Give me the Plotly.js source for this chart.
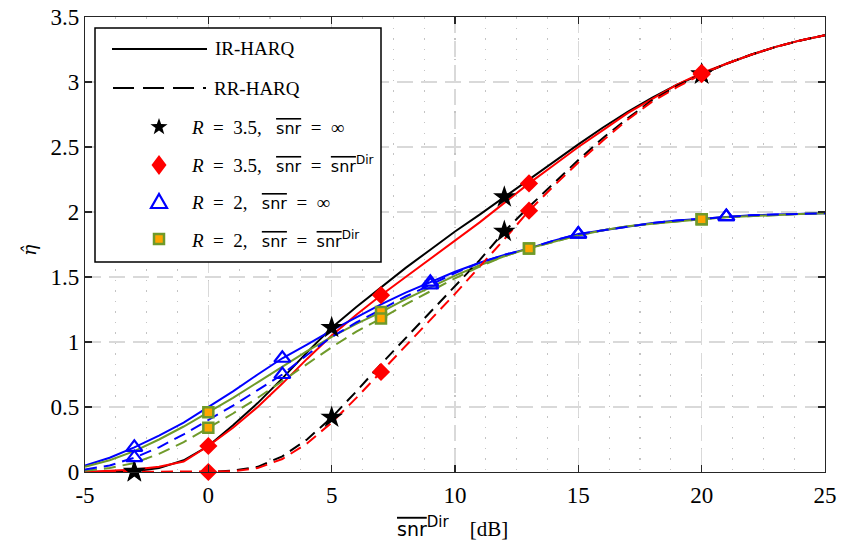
<!DOCTYPE html>
<html>
<head>
<meta charset="utf-8">
<script src="https://cdn.plot.ly/plotly-3.0.1.min.js"></script>
<style>
  html, body { margin: 0; padding: 0; background: #ffffff; }
  #chart { width: 841px; height: 546px; }
</style>
</head>
<body>
<div id="chart"></div>
<script>
// Average SNR of the direct link, dB
const snrDb = [-5, -4, -3, -2, -1, 0, 1, 2, 3, 4, 5, 6, 7, 8, 9, 10,
               11, 12, 13, 14, 15, 16, 17, 18, 19, 20, 21, 22, 23, 24, 25];

// Throughput, R = 3.5
const irR35Inf = [0.00, 0.00, 0.005, 0.03, 0.09, 0.20, 0.36, 0.53, 0.72, 0.92, 1.11, 1.27, 1.42, 1.57, 1.71, 1.85,
                  1.98, 2.115, 2.25, 2.39, 2.52, 2.65, 2.77, 2.88, 2.98, 3.06, 3.14, 3.21, 3.27, 3.32, 3.36];
const irR35Dir = [0.00, 0.01, 0.02, 0.04, 0.08, 0.20, 0.34, 0.50, 0.68, 0.87, 1.05, 1.21, 1.36, 1.50, 1.64, 1.78,
                  1.92, 2.07, 2.22, 2.36, 2.50, 2.63, 2.76, 2.87, 2.98, 3.07, 3.14, 3.21, 3.27, 3.32, 3.36];
const rrR35Inf  = [0.00, 0.00, 0.00, 0.00, 0.00, 0.00, 0.01, 0.04, 0.12, 0.25, 0.42, 0.62, 0.83, 1.03, 1.23, 1.43,
                  1.63, 1.85, 2.04, 2.22, 2.40, 2.57, 2.72, 2.86, 2.97, 3.06, 3.14, 3.21, 3.27, 3.32, 3.36];
const rrR35Dir  = [0.00, 0.00, 0.00, 0.00, 0.00, 0.00, 0.005, 0.03, 0.10, 0.22, 0.38, 0.57, 0.77, 0.97, 1.17, 1.37,
                  1.58, 1.79, 2.01, 2.20, 2.38, 2.55, 2.71, 2.85, 2.96, 3.06, 3.14, 3.21, 3.27, 3.32, 3.36];

// Throughput, R = 2
const irR2Inf = [0.05, 0.11, 0.19, 0.28, 0.38, 0.50, 0.62, 0.75, 0.875, 0.98, 1.09, 1.19, 1.29, 1.38, 1.46, 1.54,
                 1.61, 1.67, 1.72, 1.78, 1.83, 1.86, 1.89, 1.915, 1.935, 1.95, 1.965, 1.975, 1.98, 1.985, 1.99];
const irR2Dir = [0.04, 0.09, 0.16, 0.25, 0.35, 0.46, 0.57, 0.69, 0.81, 0.93, 1.04, 1.14, 1.23, 1.33, 1.42, 1.51,
                 1.59, 1.66, 1.72, 1.77, 1.82, 1.86, 1.89, 1.91, 1.93, 1.945, 1.96, 1.97, 1.98, 1.985, 1.99];
const rrR2Inf = [0.02, 0.05, 0.11, 0.19, 0.29, 0.40, 0.51, 0.63, 0.75, 0.90, 1.04, 1.15, 1.25, 1.35, 1.44, 1.53,
                 1.61, 1.67, 1.72, 1.78, 1.83, 1.86, 1.89, 1.915, 1.935, 1.95, 1.965, 1.975, 1.98, 1.985, 1.99];
const rrR2Dir = [0.01, 0.03, 0.07, 0.14, 0.23, 0.34, 0.45, 0.57, 0.70, 0.83, 0.96, 1.08, 1.18, 1.29, 1.39, 1.49,
                 1.58, 1.66, 1.72, 1.77, 1.82, 1.86, 1.89, 1.91, 1.93, 1.945, 1.96, 1.97, 1.98, 1.985, 1.99];

// SNR values carrying a marker on each curve family
const markStar = [-3, 5, 12, 20];
const markDiamond = [0, 7, 13, 20];
const markTriangle = [-3, 3, 9, 15, 21];
const markSquare = [0, 7, 13, 20];

// Axis ticks
const xTicks = [-5, 0, 5, 10, 15, 20, 25];
const xTickText = ['-5', '0', '5', '10', '15', '20', '25'];
const yTicks = [0, 0.5, 1, 1.5, 2, 2.5, 3, 3.5];
const yTickText = ['0', '0.5', '1', '1.5', '2', '2.5', '3', '3.5'];

// Legend labels
const SNR = '<span style="font-family:\'DejaVu Sans\';font-size:16px;text-decoration:overline">snr</span>';
const DIR = '<sup><span style="font-family:\'DejaVu Sans\';font-size:12px">Dir</span></sup>';
const EQ = '\u2002=\u2002';
const lblIR = 'IR-HARQ';
const lblRR = 'RR-HARQ';
const lblStar = '<i>R</i>' + EQ + '3.5,\u2002 ' + SNR + EQ + '∞';
const lblDiamond = '<i>R</i>' + EQ + '3.5,\u2002 ' + SNR + EQ + SNR + DIR;
const lblTriangle = '<i>R</i>' + EQ + '2,\u2002 ' + SNR + EQ + '∞';
const lblSquare = '<i>R</i>' + EQ + '2,\u2002 ' + SNR + EQ + SNR + DIR;

const C_BLACK = '#000000', C_RED = '#ff0000', C_BLUE = '#0000ff';
const C_GREEN = '#6f9a2a', C_ORANGE = '#ffa500';
const DASH = '12px,7px';

function pick(curve, xs) {
  return xs.map(x => curve[snrDb.indexOf(x)]);
}
function line(y, color, dash) {
  return { x: snrDb, y: y, mode: 'lines', showlegend: false, hoverinfo: 'skip',
           line: { color: color, width: 2, dash: dash || 'solid' } };
}
function marks(curve, xs, marker) {
  return { x: xs, y: pick(curve, xs), mode: 'markers', showlegend: false,
           cliponaxis: false, marker: marker };
}

const mStar = { symbol: 'star', size: 17, color: C_BLACK, line: { width: 0 } };
const mDiamond = { symbol: 'diamond', size: 14, color: C_RED, line: { width: 0 } };
const mTriangle = { symbol: 'triangle-up-open', size: 14, color: C_BLUE, line: { width: 2.2, color: C_BLUE } };
const mSquare = { symbol: 'square', size: 10, color: C_ORANGE, line: { width: 2.5, color: C_GREEN } };

const traces = [
  line(irR35Inf, C_BLACK), line(irR35Dir, C_RED),
  line(irR2Inf, C_BLUE), line(irR2Dir, C_GREEN),
  line(rrR35Inf, C_BLACK, DASH), line(rrR35Dir, C_RED, DASH),
  line(rrR2Dir, C_GREEN, DASH), line(rrR2Inf, C_BLUE, DASH),
  marks(irR35Inf, markStar, mStar), marks(rrR35Inf, markStar, mStar),
  marks(irR35Dir, markDiamond, mDiamond), marks(rrR35Dir, markDiamond, mDiamond),
  marks(irR2Dir, markSquare, mSquare), marks(rrR2Dir, markSquare, mSquare),
  marks(irR2Inf, markTriangle, mTriangle), marks(rrR2Inf, markTriangle, mTriangle)
];

// Plot frame in pixels, used to place the legend box in paper units
const W = 841, H = 546, ML = 85, MR = 16, MT = 17, MB = 74;
const PW = W - ML - MR, PH = H - MT - MB;
const px = v => (v - ML) / PW;
const py = v => (H - MB - v) / PH;

// Legend keys drawn as paths, pixel offsets around an anchor (y up)
function starPath(R, r) {
  let d = '';
  for (let k = 0; k < 10; k++) {
    const a = Math.PI / 2 + k * Math.PI / 5;
    const rad = k % 2 === 0 ? R : r;
    d += (k === 0 ? 'M' : 'L') + (rad * Math.cos(a)).toFixed(2) + ',' + (rad * Math.sin(a)).toFixed(2);
  }
  return d + 'Z';
}
const keyX = 159;
const rowY = [49, 88, 127, 165, 202, 239];

const shapes = [
  { type: 'rect', xref: 'paper', yref: 'paper', layer: 'above',
    x0: px(95), x1: px(381), y0: py(262), y1: py(28),
    fillcolor: '#ffffff', line: { color: '#000000', width: 1.5 } },
  { type: 'line', xref: 'paper', yref: 'paper', layer: 'above',
    x0: px(112), x1: px(207), y0: py(rowY[0]), y1: py(rowY[0]),
    line: { color: C_BLACK, width: 2.2 } },
  { type: 'line', xref: 'paper', yref: 'paper', layer: 'above',
    x0: px(113), x1: px(206), y0: py(rowY[1]), y1: py(rowY[1]),
    line: { color: C_BLACK, width: 2.2, dash: '21px,9px' } },
  { type: 'path', xref: 'paper', yref: 'paper', layer: 'above',
    xsizemode: 'pixel', ysizemode: 'pixel', xanchor: px(keyX), yanchor: py(rowY[2]),
    path: starPath(9, 3.6), fillcolor: C_BLACK, line: { width: 0 } },
  { type: 'path', xref: 'paper', yref: 'paper', layer: 'above',
    xsizemode: 'pixel', ysizemode: 'pixel', xanchor: px(keyX), yanchor: py(rowY[3]),
    path: 'M0,10L7.5,0L0,-10L-7.5,0Z', fillcolor: C_RED, line: { width: 0 } },
  { type: 'path', xref: 'paper', yref: 'paper', layer: 'above',
    xsizemode: 'pixel', ysizemode: 'pixel', xanchor: px(keyX), yanchor: py(rowY[4]),
    path: 'M-8,-6L8,-6L0,8Z', fillcolor: 'rgba(0,0,0,0)', line: { color: C_BLUE, width: 2.2 } },
  { type: 'rect', xref: 'paper', yref: 'paper', layer: 'above',
    xsizemode: 'pixel', ysizemode: 'pixel', xanchor: px(keyX), yanchor: py(rowY[5]),
    x0: -5, x1: 5, y0: -5, y1: 5, fillcolor: C_ORANGE, line: { color: C_GREEN, width: 2.5 } }
];

const SERIF = 'Liberation Serif';
function legendText(text, x, y) {
  return { text: text, xref: 'paper', yref: 'paper', x: px(x), y: py(y),
           xanchor: 'left', yanchor: 'middle', showarrow: false,
           font: { family: SERIF, size: 19, color: '#000000' } };
}

const XSNR = '<span style="font-family:\'DejaVu Sans\';font-size:19px;text-decoration:overline">snr</span>';
const XDIR = '<sup><span style="font-family:\'DejaVu Sans\';font-size:15px">Dir</span></sup>';

const annotations = [
  legendText(lblIR, 213, rowY[0]),
  legendText(lblRR, 212, rowY[1]),
  legendText(lblStar, 189, rowY[2]),
  legendText(lblDiamond, 189, rowY[3]),
  legendText(lblTriangle, 189, rowY[4]),
  legendText(lblSquare, 189, rowY[5]),
  { text: XSNR + XDIR + '\u2003[dB]', xref: 'paper', yref: 'paper',
    x: px(452), y: py(527), xanchor: 'center', yanchor: 'middle', showarrow: false,
    font: { family: SERIF, size: 21, color: '#000000' } },
  { text: '<i>η\u0302</i>', xref: 'paper', yref: 'paper', x: px(29), y: py(250),
    xanchor: 'center', yanchor: 'middle', showarrow: false, textangle: -90,
    font: { family: 'DejaVu Serif', size: 19, color: '#000000' } }
];

const TICKFONT = { family: 'Liberation Serif', size: 23, color: '#000000' };
const axisCommon = {
  showline: true, linecolor: '#262626', linewidth: 1.2, mirror: 'ticks',
  ticks: 'inside', ticklen: 7, tickwidth: 1.2, tickcolor: '#262626',
  showgrid: true, gridcolor: '#d9d9d9', gridwidth: 1.5, griddash: '16px,8px',
  zeroline: false, fixedrange: true
};

const layout = {
  width: W, height: H,
  margin: { l: ML, r: MR, t: MT, b: MB, pad: 0 },
  paper_bgcolor: '#ffffff', plot_bgcolor: '#ffffff',
  font: { family: SERIF, size: 19, color: '#000000' },
  showlegend: false,
  xaxis: Object.assign({}, axisCommon, {
    range: [-5, 25], tickmode: 'array', tickvals: xTicks, ticktext: xTickText,
    tickfont: Object.assign({}, TICKFONT), ticklabelstandoff: 2,
    minor: { dtick: 1.25, tick0: -5, showgrid: true, gridcolor: '#c4c4c4', gridwidth: 1.2,
             griddash: '1.5px,9px', ticklen: 0 }
  }),
  yaxis: Object.assign({}, axisCommon, {
    range: [0, 3.5], tickmode: 'array', tickvals: yTicks, ticktext: yTickText,
    tickfont: Object.assign({}, TICKFONT)
  }),
  shapes: shapes,
  annotations: annotations
};

Plotly.newPlot('chart', traces, layout, { displayModeBar: false, staticPlot: true });
</script>
</body>
</html>
